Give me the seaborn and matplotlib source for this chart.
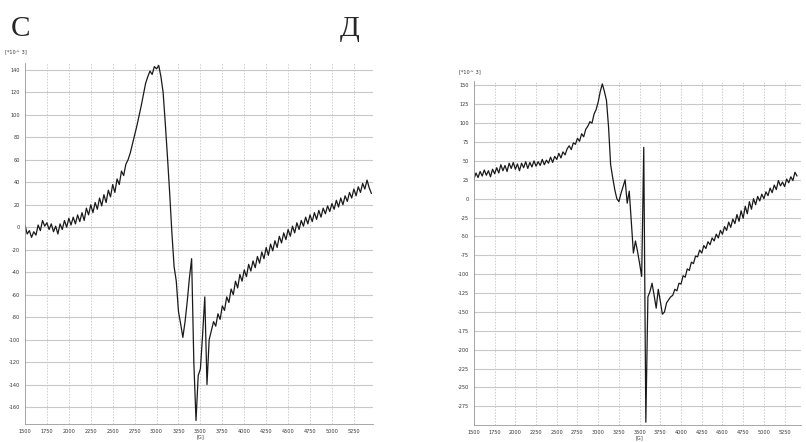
import numpy as np
import pandas as pd
import matplotlib
matplotlib.use("Agg")
import matplotlib.pyplot as plt
import seaborn as sns

# field axis (G), 25 G steps
field_c = np.arange(1500, 5475, 25)
field_d = np.arange(1500, 5425, 25)

# spectrum C, [*10^3]
signal_c = [
    2, -6, -3, -9, -4, -7, 2, -3,
    6, 1, 4, -2, 3, -4, 1, -6,
    3, -2, 6, 0, 8, 2, 9, 3,
    11, 5, 13, 6, 17, 11, 20, 13,
    22, 16, 26, 19, 29, 22, 33, 27,
    38, 31, 43, 38, 50, 46, 56, 60,
    66, 74, 82, 90, 99, 108, 118, 128,
    134, 139, 136, 143, 141, 144, 134, 120,
    92, 62, 30, -5, -35, -48, -75, -86,
    -98, -84, -66, -45, -28, -120, -172, -132,
    -126, -96, -62, -140, -100, -92, -84, -88,
    -77, -82, -70, -74, -62, -67, -55, -60,
    -48, -54, -42, -48, -38, -44, -33, -39,
    -30, -36, -26, -32, -22, -28, -18, -25,
    -15, -21, -12, -18, -8, -14, -5, -11,
    -2, -8, 1, -5, 4, -2, 6, 1,
    9, 3, 11, 5, 13, 7, 15, 9,
    17, 12, 19, 14, 21, 16, 24, 18,
    26, 20, 28, 23, 31, 26, 34, 28,
    36, 31, 39, 34, 42, 35, 30,
]

# spectrum Д, [*10^3]
signal_d = [
    26, 34, 28, 36, 30, 38, 31, 37,
    29, 39, 33, 41, 34, 45, 37, 44,
    36, 47, 40, 48, 39, 46, 37, 47,
    41, 49, 40, 48, 42, 50, 43, 49,
    44, 52, 45, 51, 47, 55, 48, 56,
    52, 60, 54, 62, 58, 66, 70, 65,
    74, 72, 80, 76, 86, 82, 92, 96,
    102, 100, 112, 118, 128, 142, 152, 142,
    130, 95, 45, 28, 12, 0, -4, 7,
    16, 25, -6, 10, -30, -72, -56, -70,
    -86, -103, 68, -296, -130, -123, -112, -128,
    -145, -120, -136, -153, -150, -138, -134, -130,
    -128, -120, -122, -112, -113, -102, -104, -93,
    -95, -84, -86, -76, -77, -68, -72, -62,
    -66, -57, -61, -52, -56, -47, -52, -42,
    -47, -37, -42, -31, -38, -27, -33, -21,
    -30, -16, -26, -10, -20, -4, -14, 0,
    -8, 3, -3, 6, 0, 9, 4, 14,
    8, 18, 12, 24, 17, 22, 16, 26,
    21, 29, 24, 35, 30,
]

xticks = np.arange(1500, 5500, 250)
yticks_c = np.arange(-160, 160, 20)
yticks_d = np.arange(-275, 175, 25)

df_c = pd.DataFrame({"field": field_c, "signal": signal_c})
df_d = pd.DataFrame({"field": field_d, "signal": signal_d})

sns.set_style("white")
plt.rcParams["axes.unicode_minus"] = False

fig = plt.figure(figsize=(8.06, 4.42), dpi=100)
ax1 = fig.add_axes([0.031, 0.041, 0.432, 0.816])
ax2 = fig.add_axes([0.588, 0.038, 0.406, 0.779])


def style(ax, yticks, xlim, ylim):
    ax.set_xlim(*xlim)
    ax.set_ylim(*ylim)
    ax.set_xticks(xticks)
    ax.set_yticks(yticks)
    ax.set_xticks(np.arange(1500, 5500, 50), minor=True)
    ax.tick_params(axis="both", labelsize=3.6, colors="#333333", length=2, width=0.5, pad=1.5)
    ax.tick_params(axis="x", which="minor", length=1.2, width=0.4, color="#777777")
    ax.grid(axis="y", color="#c8c8c8", lw=0.8)
    ax.grid(axis="x", color="#cccccc", lw=0.7, ls=(0, (1.5, 1.5)))
    for s in ["top", "right"]:
        ax.spines[s].set_visible(False)
    for s in ["left", "bottom"]:
        ax.spines[s].set_color("#999999")
        ax.spines[s].set_linewidth(0.6)
    ax.set_xlabel("")
    ax.set_ylabel("")
    ax.text(3500, -0.028, "[G]", transform=ax.get_xaxis_transform(),
            fontsize=3.6, color="#333333", ha="center", va="top")


sns.lineplot(data=df_c, x="field", y="signal", ax=ax1, color="#1a1a1a", linewidth=0.9, sort=False)
sns.lineplot(data=df_d, x="field", y="signal", ax=ax2, color="#1a1a1a", linewidth=0.9, sort=False)

style(ax1, yticks_c, (1500, 5470), (-175, 146))
style(ax2, yticks_d, (1500, 5400), (-300, 156))

fig.text(5 / 806, 1 - 52 / 442, "[*10^ 3]", fontsize=3.6, color="#333333", ha="left", va="center")
fig.text(459 / 806, 1 - 72 / 442, "[*10^ 3]", fontsize=3.6, color="#333333", ha="left", va="center")

fig.text(20 / 806, 1 - 36 / 442, "С", fontsize=21, family="Liberation Serif", ha="center", va="baseline")
fig.text(350 / 806, 1 - 36 / 442, "Д", fontsize=21, family="Liberation Serif", ha="center", va="baseline")

fig.savefig("out.png", dpi=100, facecolor="white")
